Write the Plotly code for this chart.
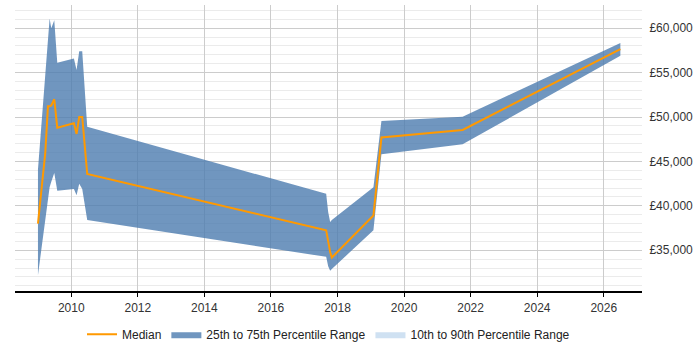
import plotly.graph_objects as go

years = [2009.00, 2009.22, 2009.30, 2009.35, 2009.40, 2009.49, 2009.58, 2010.08,
         2010.16, 2010.24, 2010.33, 2010.48, 2017.66, 2017.72, 2017.78, 2017.83,
         2019.08, 2019.32, 2021.76, 2026.50]
p75 = [44100, 55500, 59500, 61100, 60000, 60900, 56100, 56600, 55300, 57400,
       57400, 48900, 41350, 39300, 38180, 38400, 42100, 49550, 50040, 58320]
median = [38000, 46000, 51200, 51200, 51300, 52000, 48800, 49300, 48100, 50000,
          50000, 43600, 37240, 35800, 34800, 34180, 38920, 47690, 48540, 57650]
p25 = [32200, 38400, 40800, 42100, 42700, 43700, 41700, 41900, 41200, 42500,
       41900, 38400, 34260, 33200, 32700, 32900, 37240, 45820, 46940, 56900]

x_ticks = [2010, 2012, 2014, 2016, 2018, 2020, 2022, 2024, 2026]
y_ticks = [35000, 40000, 45000, 50000, 55000, 60000]

band_color = "rgba(76,124,175,0.8)"
light_color = "rgba(160,195,230,0.5)"
median_color = "rgb(255,153,0)"

fig = go.Figure()
fig.add_trace(go.Scatter(x=years, y=p25, mode="lines", line=dict(width=0, color=band_color),
                         showlegend=False, hoverinfo="skip"))
fig.add_trace(go.Scatter(x=years, y=p75, mode="lines", line=dict(width=0, color=band_color),
                         fill="tonexty", fillcolor=band_color,
                         name="25th to 75th Percentile Range", legendrank=2))
fig.add_trace(go.Scatter(x=[None], y=[None], mode="lines", line=dict(width=0, color=light_color),
                         fill="toself", fillcolor=light_color,
                         name="10th to 90th Percentile Range", legendrank=3))
fig.add_trace(go.Scatter(x=years, y=median, mode="lines", line=dict(width=2, color=median_color),
                         name="Median", legendrank=1))

fig.update_layout(
    width=700, height=350,
    margin=dict(l=15, r=58, t=5, b=58),
    paper_bgcolor="white", plot_bgcolor="white",
    font=dict(family="Liberation Sans, Arial, sans-serif", size=12, color="#333"),
    showlegend=True,
    legend=dict(orientation="h", x=0.5, xanchor="center", yref="container",
                y=0.045, yanchor="middle", font=dict(size=12, color="#222"),
                traceorder="normal"),
    xaxis=dict(range=[2008.31, 2027.15], tickvals=x_ticks, ticktext=[str(v) for v in x_ticks],
               showgrid=True, gridcolor="#cccccc", gridwidth=1,
               showline=True, linecolor="#000", linewidth=1.5,
               ticks="outside", ticklen=5, tickcolor="#000", zeroline=False),
    yaxis=dict(range=[30460, 62610], side="right", tickvals=y_ticks,
               ticktext=["£{:,}".format(v) for v in y_ticks],
               showgrid=True, gridcolor="#cccccc", gridwidth=1,
               minor=dict(dtick=1000, showgrid=True, gridcolor="#ebebeb", gridwidth=1),
               showline=False, zeroline=False, ticks="outside", ticklen=4, tickcolor="white"),
)

fig.write_html("out.html")
